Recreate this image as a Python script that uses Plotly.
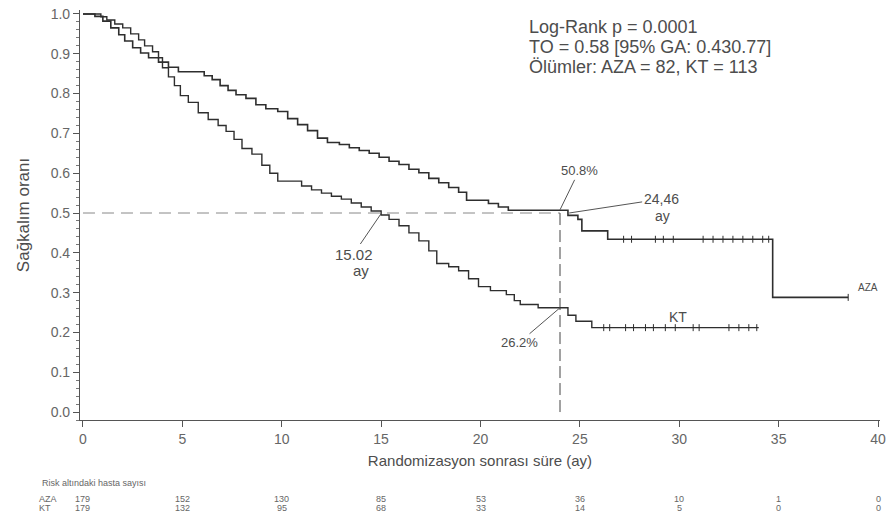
import plotly.graph_objects as go

# ---------------- data ----------------
aza_t = [0, 0.6, 1.0, 1.4, 1.8, 2.1, 2.5, 2.9, 3.3, 3.8, 4.3, 4.8, 6.1, 6.5, 6.9, 7.3, 7.7, 8.2, 8.7, 9.2,
         9.8, 10.3, 10.8, 11.3, 11.8, 12.3, 12.9, 13.4, 13.9, 14.4, 14.9, 15.4, 15.9, 16.4, 16.9, 17.4,
         17.9, 18.4, 18.9, 19.3, 20.4, 20.9, 21.4, 24.4, 24.9, 25.1, 26.4, 34.7]
aza_s = [1.0, 0.994, 0.982, 0.965, 0.948, 0.932, 0.915, 0.902, 0.89, 0.879, 0.866, 0.855, 0.845, 0.835,
         0.82, 0.808, 0.797, 0.788, 0.772, 0.762, 0.755, 0.737, 0.722, 0.707, 0.688, 0.677, 0.672, 0.664,
         0.657, 0.65, 0.64, 0.63, 0.622, 0.61, 0.601, 0.587, 0.576, 0.564, 0.552, 0.532, 0.524, 0.515,
         0.507, 0.494, 0.484, 0.455, 0.434, 0.288]
aza_end = 38.5

kt_t = [0, 0.9, 1.2, 1.6, 2.0, 2.4, 2.8, 3.1, 3.5, 3.8, 4.0, 4.3, 4.6, 4.9, 5.3, 5.8, 6.3, 6.8, 7.2, 7.6,
        8.0, 8.5, 9.0, 9.4, 9.8, 11.0, 11.5, 12.0, 12.5, 13.0, 13.5, 14.0, 14.5, 15.0, 15.4, 15.9, 16.4,
        16.9, 17.4, 17.8, 18.4, 18.9, 19.4, 19.9, 20.5, 21.3, 21.7, 22.0, 22.9, 24.4, 24.8, 25.6]
kt_s = [1.0, 0.993, 0.985, 0.975, 0.965, 0.95, 0.935, 0.92, 0.905, 0.89, 0.865, 0.842, 0.82, 0.795,
        0.778, 0.752, 0.735, 0.72, 0.705, 0.685, 0.662, 0.648, 0.62, 0.6, 0.58, 0.568, 0.558, 0.55,
        0.542, 0.535, 0.525, 0.515, 0.505, 0.495, 0.484, 0.468, 0.45, 0.43, 0.405, 0.373, 0.365, 0.355,
        0.335, 0.315, 0.305, 0.295, 0.28, 0.27, 0.262, 0.243, 0.228, 0.212]
kt_end = 34.0

aza_censor = [27.2, 27.6, 28.8, 29.2, 29.7, 31.2, 31.7, 32.2, 32.7, 33.2, 33.7, 34.2, 34.5, 38.5]
kt_censor = [26.2, 26.5, 27.3, 27.7, 28.3, 28.7, 29.3, 29.8, 30.7, 31.0, 32.5, 33.0, 33.5, 33.9]

risk_times = [0, 5, 10, 15, 20, 25, 30, 35, 40]
risk_aza = [179, 152, 130, 85, 53, 36, 10, 1, 0]
risk_kt = [179, 132, 95, 68, 33, 14, 5, 0, 0]

median_level = 0.5
landmark = 24
aza_median = 24.46
kt_median = 15.02
aza_at_landmark = 0.508
kt_at_landmark = 0.262

x_ticks = [0, 5, 10, 15, 20, 25, 30, 35, 40]
y_ticks = [0.0, 0.1, 0.2, 0.3, 0.4, 0.5, 0.6, 0.7, 0.8, 0.9, 1.0]

# ---------------- helpers ----------------
def surv_at(ts, ss, t):
    v = ss[0]
    for ti, si in zip(ts, ss):
        if ti <= t:
            v = si
    return v

FONT = "Liberation Sans, Arial, sans-serif"
TXT = "#4d4d4d"
LINE = "#2e2e2e"

fig = go.Figure()

# reference dashed lines (median level and 24-month landmark)
fig.add_trace(go.Scatter(x=[0, landmark], y=[median_level, median_level], mode="lines",
                         line=dict(color="#888", width=1, dash="12px,7px"), hoverinfo="skip"))
fig.add_trace(go.Scatter(x=[landmark, landmark], y=[0, median_level], mode="lines",
                         line=dict(color="#444", width=1, dash="12px,5px"), hoverinfo="skip"))

# KM curves
fig.add_trace(go.Scatter(x=kt_t + [kt_end], y=kt_s + [kt_s[-1]], mode="lines", line_shape="hv",
                         line=dict(color=LINE, width=1.4), name="KT"))
fig.add_trace(go.Scatter(x=aza_t + [aza_end], y=aza_s + [aza_s[-1]], mode="lines", line_shape="hv",
                         line=dict(color=LINE, width=1.6), name="AZA"))

# censor marks
fig.add_trace(go.Scatter(x=aza_censor, y=[surv_at(aza_t, aza_s, t) for t in aza_censor], mode="markers",
                         marker=dict(symbol="line-ns-open", size=5, color=LINE, line=dict(width=1, color=LINE))))
fig.add_trace(go.Scatter(x=kt_censor, y=[surv_at(kt_t, kt_s, t) for t in kt_censor], mode="markers",
                         marker=dict(symbol="line-ns-open", size=5, color=LINE, line=dict(width=1, color=LINE))))

ann = []
# top-right statistics text
for txt, py in [("Log-Rank p = 0.0001", 25), ("TO = 0.58 [95% GA: 0.430.77]", 45),
                ("Ölümler: AZA = 82, KT = 113", 65)]:
    ann.append(dict(text=txt, xref="paper", yref="paper", x=(530 - 80) / 806, y=(420 - py) / 412,
                    xanchor="left", yanchor="middle", showarrow=False,
                    font=dict(family=FONT, size=18, color=TXT)))

arrow_kw = dict(showarrow=True, arrowhead=0, arrowwidth=1, arrowcolor="#555", standoff=0,
                axref="pixel", ayref="pixel")
ann.append(dict(text="15.02", x=kt_median, y=median_level, ax=-28, ay=41,
                font=dict(family=FONT, size=15, color=TXT), **arrow_kw))
ann.append(dict(text="ay", x=14.0, y=(412 - 270) / 400, showarrow=False,
                font=dict(family=FONT, size=15, color=TXT)))
ann.append(dict(text="24,46", x=aza_median, y=median_level, ax=92, ay=-14,
                font=dict(family=FONT, size=14, color=TXT), **arrow_kw))
ann.append(dict(text="ay", x=(667 - 83) / 20.025, y=(412 - 215) / 400, showarrow=False,
                font=dict(family=FONT, size=14, color=TXT)))
ann.append(dict(text="50.8%", x=landmark, y=aza_at_landmark, ax=19, ay=-39,
                font=dict(family=FONT, size=13, color=TXT), **arrow_kw))
ann.append(dict(text="26.2%", x=landmark, y=kt_at_landmark, ax=-41, ay=35,
                font=dict(family=FONT, size=13, color=TXT), **arrow_kw))
ann.append(dict(text="AZA", x=39.5, y=0.312, showarrow=False,
                font=dict(family=FONT, size=10, color=TXT)))
ann.append(dict(text="KT", x=29.96, y=0.238, showarrow=False,
                font=dict(family=FONT, size=14, color=TXT)))

# risk table
ann.append(dict(text="Risk altındaki hasta sayısı", xref="paper", yref="paper", x=(40 - 80) / 806,
                y=(420 - 483) / 412, xanchor="left", yanchor="middle", showarrow=False,
                font=dict(family=FONT, size=9, color="#666")))
for lab, vals, py in [("AZA", risk_aza, 499), ("KT", risk_kt, 508)]:
    ann.append(dict(text=lab, xref="paper", yref="paper", x=(37 - 80) / 806, y=(420 - py) / 412,
                    xanchor="left", yanchor="middle", showarrow=False,
                    font=dict(family=FONT, size=9, color="#666")))
    for t, v in zip(risk_times, vals):
        ann.append(dict(text=str(v), x=t, xref="x", yref="paper", y=(420 - py) / 412,
                        xanchor="center", yanchor="middle", showarrow=False,
                        font=dict(family=FONT, size=9, color="#666")))

fig.update_layout(
    width=892, height=530,
    margin=dict(l=80, r=6, t=8, b=110),
    paper_bgcolor="white", plot_bgcolor="white",
    showlegend=False,
    hovermode=False,
    annotations=ann,
    font=dict(family=FONT, color=TXT),
    xaxis=dict(range=[-0.15, 40.1], tickvals=x_ticks, ticktext=[str(v) for v in x_ticks],
               showgrid=False, zeroline=False, showline=True, linecolor="#555", linewidth=1.2,
               ticks="outside", ticklen=6, tickcolor="#555",
               tickfont=dict(family=FONT, size=14, color="#666"),
               title=dict(text="Randomizasyon sonrası süre (ay)", font=dict(family=FONT, size=15, color=TXT),
                          standoff=9)),
    yaxis=dict(range=[-0.02, 1.01], tickvals=y_ticks, ticktext=[f"{v:.1f}" for v in y_ticks],
               showgrid=False, zeroline=False, showline=True, linecolor="#555", linewidth=1.2,
               ticks="outside", ticklen=6, tickcolor="#555",
               tickfont=dict(family=FONT, size=14, color="#666"),
               minor=dict(ticks="outside", dtick=0.02, ticklen=3, tickcolor="#777"),
               title=dict(text="Sağkalım oranı", font=dict(family=FONT, size=17, color=TXT),
                          standoff=16)),
)

fig.write_html("out.html", config={"displayModeBar": False},
               post_script="document.body.style.margin='0';document.body.style.overflow='hidden';")
